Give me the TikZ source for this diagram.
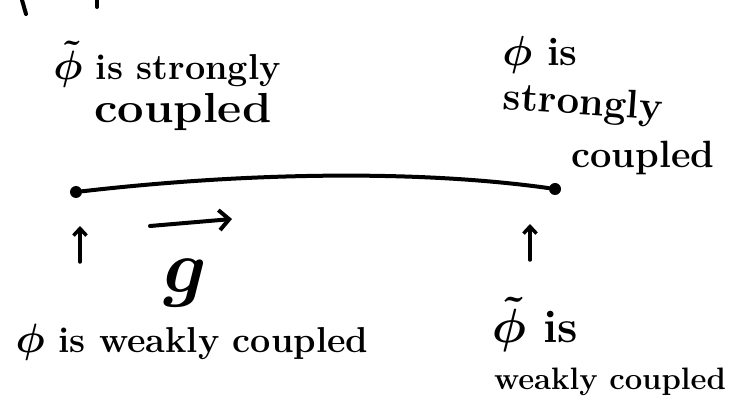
\documentclass[tikz,border=0pt]{standalone}
\usetikzlibrary{arrows.meta}
\newcommand{\bigsym}[2]{\scalebox{#1}{\fontsize{10}{12}\selectfont\boldmath$#2$}}
\begin{document}
\begin{tikzpicture}[x=1pt,y=-1pt,
  pen/.style={line width=4pt,line cap=round,line join=round},
  dotnode/.style={circle,fill=black,inner sep=0pt,minimum size=12pt},
  txt/.style={inner sep=0pt},
  uparrow/.style={pen,line width=3.5pt,-{Straight Barb[length=7pt,width=13pt,line width=3.5pt]}}]
\useasboundingbox (0,0) rectangle (730,403);
% cut-off strokes at the top edge
\draw[pen] (22,0) -- (26,14);
\draw[pen] (97,0) -- (97,7);
% texts
\node[txt,font=\fontsize{36}{38}\selectfont\bfseries] (tl1) at (167,64) {\bigsym{4.1}{\tilde{\phi}} is strongly};
\node[txt,font=\fontsize{42}{44}\selectfont\bfseries,xscale=1.12] (tl2) at (183,112) {coupled};
\node[txt,font=\fontsize{40}{42}\selectfont\bfseries] (tr1) at (540,55) {\bigsym{4.2}{\phi} is};
\node[txt,font=\fontsize{40}{42}\selectfont\bfseries,rotate=-4] (tr2) at (583,105) {strongly};
\node[txt,font=\fontsize{38}{40}\selectfont\bfseries] (tr3) at (643,158) {coupled};
\node[txt,font=\fontsize{36}{38}\selectfont\bfseries] (bl) at (192,342) {\bigsym{4.1}{\phi} is weakly coupled};
\node[txt,font=\fontsize{46}{48}\selectfont\bfseries] (br1) at (535,324) {\bigsym{4.8}{\tilde{\phi}} is};
\node[txt,font=\fontsize{31}{33}\selectfont\bfseries] (br2) at (610,382) {weakly coupled};
% the interval
\node[dotnode] (L) at (76,192) {};
\node[dotnode] (R) at (555,189) {};
\draw[pen] (L) .. controls (250,172) and (420,170) .. (R);
% up arrows
\coordinate (la0) at (80,262);
\coordinate (la1) at (80,226);
\coordinate (ra0) at (530,260);
\coordinate (ra1) at (530,224);
\draw[uparrow] (la0) -- (la1);
\draw[uparrow] (ra0) -- (ra1);
% flow arrow g
\coordinate (g0) at (150,226);
\coordinate (g1) at (232,219);
\draw[pen,-{Straight Barb[length=10pt,width=20pt,line width=4pt]}] (g0) -- (g1);
\node[txt] (g) at (185,283) {\bigsym{7.5}{g}};
\end{tikzpicture}
\end{document}
